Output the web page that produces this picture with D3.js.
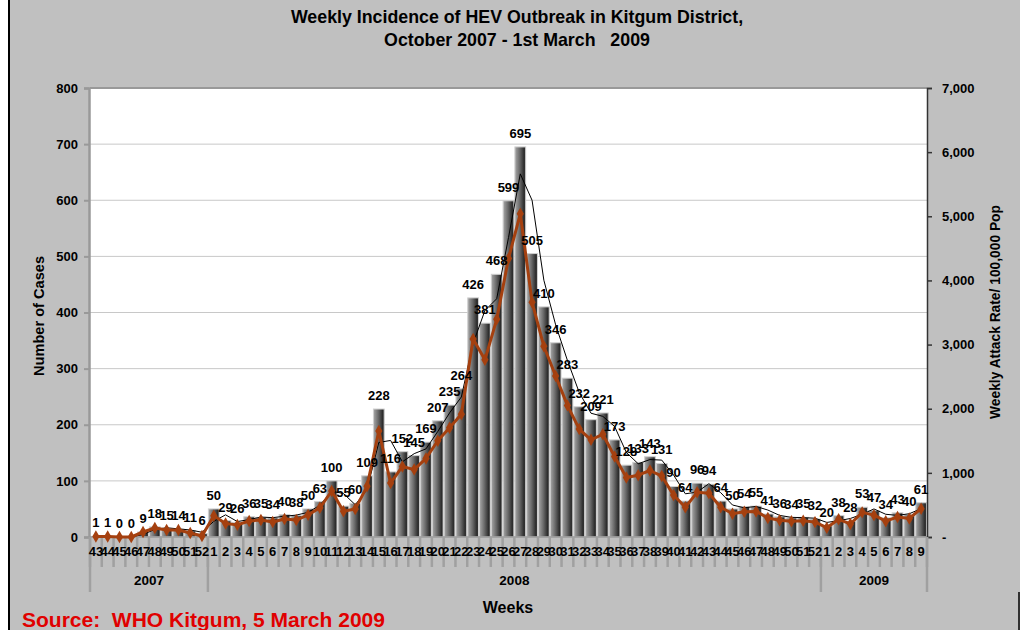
<!DOCTYPE html>
<html>
<head>
<meta charset="utf-8">
<script src="https://cdn.jsdelivr.net/npm/d3@7"></script>
<style>
  body { margin: 0; background: #fff; }
  svg text { font-family: Arial, "Liberation Sans", sans-serif; font-weight: bold; }
</style>
</head>
<body>
<div id="chart"></div>
<script>
// year groups and the week numbers under each
var years = ["2007", "2008", "2009"];
var weeks2007 = ["43","44","45","46","47","48","49","50","51","52"];
var weeks2008 = ["1","2","3","4","5","6","7","8","9","10","11","12","13","14","15","16","17","18","19","20",
                 "21","22","23","24","25","26","27","28","29","30","31","32","33","34","35","36","37","38","39","40",
                 "41","42","43","44","45","46","47","48","49","50","51","52"];
var weeks2009 = ["1","2","3","4","5","6","7","8","9"];

// number of cases (bars, left axis)
var cases2007 = [1,1,0,0,9,18,15,14,11,6];
var cases2008 = [50,29,26,36,35,34,40,38,50,63,100,55,60,109,228,116,152,145,169,207,
                 235,264,426,381,468,599,695,505,410,346,283,232,209,221,173,128,133,143,131,90,
                 64,96,94,64,50,54,55,41,36,34,35,32];
var cases2009 = [20,38,28,53,47,34,43,40,61];

// weekly attack rate / 100,000 (brown line, right axis)
var rate2007 = [7,7,0,0,78,140,109,109,62,16];
var rate2008 = [330,210,189,250,265,234,280,265,345,455,717,400,435,790,1653,841,1100,1051,1225,1500,
                1704,1914,3088,2762,3393,4343,5039,3661,2973,2509,2052,1682,1515,1602,1254,928,964,1037,950,653,
                464,696,682,464,363,392,399,297,261,247,254,232];
var rate2009 = [145,276,203,384,341,247,312,290,442];

// 2 week moving average trend of cases (thin black line), starts at the 2nd week
var trend2007 = [null,1,0.5,0,4.5,13.5,16.5,14.5,12.5,8.5];
var trend2008 = [28,39.5,27.5,31,35.5,34.5,37,39,44,56.5,81.5,77.5,57.5,84.5,168.5,172,134,148.5,157,188,
                 221,249.5,345,403.5,424.5,533.5,647,600,457.5,378,314.5,257.5,220.5,215,197,150.5,130.5,138,137,110.5,
                 77,80,95,79,57,52,54.5,48,38.5,35,34.5,33.5];
var trend2009 = [26,29,33,40.5,50,40.5,38.5,41.5,50.5];

var leftTicks = [0,100,200,300,400,500,600,700,800];
var rightTicks = [0,1000,2000,3000,4000,5000,6000,7000];

var weekLists = [weeks2007, weeks2008, weeks2009];
var caseLists = [cases2007, cases2008, cases2009];
var rateLists = [rate2007, rate2008, rate2009];
var trendLists = [trend2007, trend2008, trend2009];

var rows = [];
weekLists.forEach(function(list, yi) {
  list.forEach(function(w, wi) {
    rows.push({ key: years[yi] + "-" + w, week: w, year: years[yi],
                cases: caseLists[yi][wi], rate: rateLists[yi][wi], trend: trendLists[yi][wi] });
  });
});

var W = 1027, H = 630;
var plotL = 90, plotR = 927, plotT = 88, plotB = 537;

var svg = d3.select("#chart").append("svg").attr("width", W).attr("height", H);

// backgrounds
svg.append("rect").attr("x", 10).attr("y", 0).attr("width", 1010).attr("height", H).attr("fill", "#c0c0c0");
svg.append("line").attr("x1", 9).attr("x2", 9).attr("y1", 0).attr("y2", H).attr("stroke", "#000").attr("stroke-width", 2);
svg.append("line").attr("x1", 1019).attr("x2", 1019).attr("y1", 592).attr("y2", H).attr("stroke", "#000").attr("stroke-width", 1.5);
svg.append("rect").attr("x", plotL).attr("y", plotT).attr("width", plotR - plotL).attr("height", plotB - plotT).attr("fill", "#fff");

var x = d3.scaleBand().domain(rows.map(function(d) { return d.key; })).range([plotL, plotR]).padding(0);
var yL = d3.scaleLinear().domain([0, 800]).range([plotB, plotT]);
var yR = d3.scaleLinear().domain([0, 7000]).range([plotB, plotT]);

// gridlines
svg.append("g").selectAll("line").data(leftTicks.slice(1, -1)).enter().append("line")
  .attr("x1", plotL).attr("x2", plotR)
  .attr("y1", function(d) { return yL(d); }).attr("y2", function(d) { return yL(d); })
  .attr("stroke", "#c8c8c8").attr("stroke-width", 1);

// bar gradient
var grad = svg.append("defs").append("linearGradient").attr("id", "barGrad")
  .attr("x1", "0%").attr("x2", "100%").attr("y1", "0%").attr("y2", "0%");
grad.append("stop").attr("offset", "0%").attr("stop-color", "#a8a8a8");
grad.append("stop").attr("offset", "45%").attr("stop-color", "#6a6a6a");
grad.append("stop").attr("offset", "85%").attr("stop-color", "#2c2c2c");
grad.append("stop").attr("offset", "100%").attr("stop-color", "#3a3a3a");

svg.append("g").selectAll("rect").data(rows).enter().append("rect")
  .attr("x", function(d) { return x(d.key) + 0.5; })
  .attr("y", function(d) { return yL(d.cases); })
  .attr("width", x.bandwidth() - 1)
  .attr("height", function(d) { return plotB - yL(d.cases); })
  .attr("fill", "url(#barGrad)")
  .attr("stroke", "#cfcfcf").attr("stroke-width", 1);

// top border and axis lines
svg.append("line").attr("x1", plotL).attr("x2", plotR).attr("y1", plotT).attr("y2", plotT).attr("stroke", "#999").attr("stroke-width", 2);
svg.append("line").attr("x1", plotL).attr("x2", plotR).attr("y1", plotB).attr("y2", plotB).attr("stroke", "#999").attr("stroke-width", 1.5);

var axL = svg.append("g").attr("transform", "translate(" + (plotL - 1) + ",0)")
  .call(d3.axisLeft(yL).tickValues(leftTicks).tickSize(5).tickPadding(6).tickFormat(d3.format("d")));
axL.select(".domain").attr("stroke", "#999").attr("stroke-width", 2.5);
axL.selectAll(".tick line").attr("stroke", "#999").attr("stroke-width", 2);
axL.selectAll("text").attr("font-size", 13).attr("fill", "#000");

var axR = svg.append("g").attr("transform", "translate(" + plotR + ",0)")
  .call(d3.axisRight(yR).tickValues(rightTicks).tickSize(5).tickPadding(10)
    .tickFormat(function(d) { return d === 0 ? "-" : d3.format(",")(d); }));
axR.select(".domain").attr("stroke", "#333").attr("stroke-width", 1.5);
axR.selectAll(".tick line").attr("stroke", "#333").attr("stroke-width", 1.5);
axR.selectAll("text").attr("font-size", 13).attr("fill", "#000");

// category separators under the axis
var bounds = rows.map(function(d) { return x(d.key); }).concat([plotR]);
svg.append("g").selectAll("line").data(bounds).enter().append("line")
  .attr("x1", function(d) { return d; }).attr("x2", function(d) { return d; })
  .attr("y1", plotB).attr("y2", 567)
  .attr("stroke", "#a0a0a0").attr("stroke-width", 2.5);

var yearGroups = years.map(function(yr) { return rows.filter(function(d) { return d.year === yr; }); });
var yearEdges = [plotL];
yearGroups.forEach(function(g) { yearEdges.push(x(g[g.length - 1].key) + x.bandwidth()); });
svg.append("g").selectAll("line").data(yearEdges).enter().append("line")
  .attr("x1", function(d) { return d; }).attr("x2", function(d) { return d; })
  .attr("y1", plotB).attr("y2", 592)
  .attr("stroke", "#a0a0a0").attr("stroke-width", 2.5);

var axX = svg.append("g").attr("transform", "translate(0," + plotB + ")")
  .call(d3.axisBottom(x).tickSize(0).tickPadding(10).tickFormat(function(k) { return k.split("-")[1]; }));
axX.select(".domain").remove();
axX.selectAll("text").attr("font-size", 13).attr("fill", "#000");

svg.append("g").selectAll("text").data(yearGroups).enter().append("text")
  .attr("x", function(g) { return (x(g[0].key) + x(g[g.length - 1].key) + x.bandwidth()) / 2; })
  .attr("y", 585).attr("text-anchor", "middle").attr("font-size", 13.5)
  .text(function(g) { return g[0].year; });

// trend line
var trendLine = d3.line()
  .defined(function(d) { return d.trend != null; })
  .x(function(d) { return x(d.key) + x.bandwidth() / 2; })
  .y(function(d) { return yL(d.trend); });
svg.append("path").datum(rows).attr("d", trendLine).attr("fill", "none").attr("stroke", "#000").attr("stroke-width", 1);

// attack rate line
var rateLine = d3.line()
  .x(function(d) { return x(d.key) + x.bandwidth() / 2; })
  .y(function(d) { return yR(d.rate); });
svg.append("path").datum(rows).attr("d", rateLine).attr("fill", "none")
  .attr("stroke", "#a5400f").attr("stroke-width", 3).attr("stroke-linejoin", "round");
svg.append("g").selectAll("path").data(rows).enter().append("path")
  .attr("d", d3.symbol().type(d3.symbolDiamond).size(45))
  .attr("transform", function(d) { return "translate(" + (x(d.key) + x.bandwidth() / 2) + "," + yR(d.rate) + ")"; })
  .attr("fill", "#a5400f");

// data labels
svg.append("g").selectAll("text").data(rows).enter().append("text")
  .attr("x", function(d) { return x(d.key) + x.bandwidth() / 2; })
  .attr("y", function(d) { return yL(d.cases) - 9; })
  .attr("text-anchor", "middle").attr("font-size", 13).attr("fill", "#000")
  .text(function(d) { return d.cases; });

// titles
svg.append("text").attr("x", 517).attr("y", 23).attr("text-anchor", "middle").attr("font-size", 17.8)
  .text("Weekly Incidence of HEV Outbreak in Kitgum District,");
svg.append("text").attr("x", 517).attr("y", 46).attr("text-anchor", "middle").attr("font-size", 17.8)
  .style("white-space", "pre")
  .text("October 2007 - 1st March   2009");
svg.append("text").attr("transform", "translate(44,316) rotate(-90)").attr("text-anchor", "middle").attr("font-size", 14.6)
  .text("Number of Cases");
svg.append("text").attr("transform", "translate(1000,312) rotate(-90)").attr("text-anchor", "middle").attr("font-size", 13.8)
  .text("Weekly Attack Rate/ 100,000 Pop");
svg.append("text").attr("x", 508).attr("y", 613).attr("text-anchor", "middle").attr("font-size", 16)
  .text("Weeks");
svg.append("text").attr("x", 22).attr("y", 627).attr("font-size", 21).attr("fill", "#e00000")
  .style("white-space", "pre")
  .text("Source:  WHO Kitgum, 5 March 2009");
</script>
</body>
</html>
